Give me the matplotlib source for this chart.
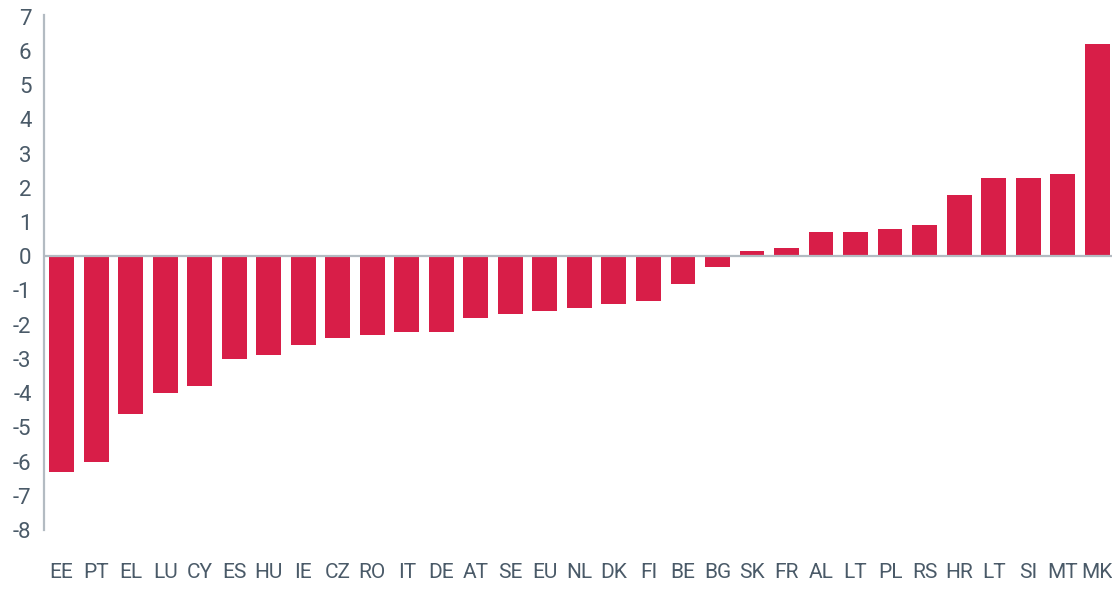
import matplotlib
matplotlib.use("Agg")
import matplotlib.pyplot as plt

plt.rcParams['font.family'] = ['Roboto', 'DejaVu Sans']

categories = ["EE", "PT", "EL", "LU", "CY", "ES", "HU", "IE", "CZ", "RO", "IT", "DE",
              "AT", "SE", "EU", "NL", "DK", "FI", "BE", "BG", "SK", "FR", "AL", "LT",
              "PL", "RS", "HR", "LT", "SI", "MT", "MK"]
values = [-6.3, -6.0, -4.6, -4.0, -3.8, -3.0, -2.9, -2.6, -2.4, -2.3, -2.2, -2.2,
          -1.8, -1.7, -1.6, -1.5, -1.4, -1.3, -0.8, -0.3, 0.15, 0.25, 0.7, 0.7,
          0.8, 0.9, 1.8, 2.3, 2.3, 2.4, 6.2]
yticks = list(range(-8, 8))

bar_color = "#D81E48"
text_color = "#4A5A68"
axis_color = "#B3BBC2"

fig = plt.figure(figsize=(11.12, 5.9), dpi=100)
ax = fig.add_axes([44/1112, 1 - 530/590, 1 - 44/1112, (530 - 15)/590])

x = list(range(len(categories)))
ax.bar(x, values, width=0.72, color=bar_color, zorder=2)
ax.axhline(0, color=axis_color, lw=1.6, zorder=3)

ax.set_xlim(-0.51, len(categories) - 0.57)
ax.set_ylim(-8, 7.05)
ax.set_yticks(yticks)
ax.set_yticklabels([str(t) for t in yticks])
ax.set_xticks(x)
ax.set_xticklabels(categories)

for s in ["top", "right", "bottom"]:
    ax.spines[s].set_visible(False)
ax.spines["left"].set_color(axis_color)
ax.spines["left"].set_linewidth(1.6)

ax.tick_params(axis="y", length=0, pad=9, labelsize=16, labelcolor=text_color)
ax.tick_params(axis="x", length=0, pad=24, labelsize=15, labelcolor=text_color)

fig.savefig("out.png", dpi=100)
